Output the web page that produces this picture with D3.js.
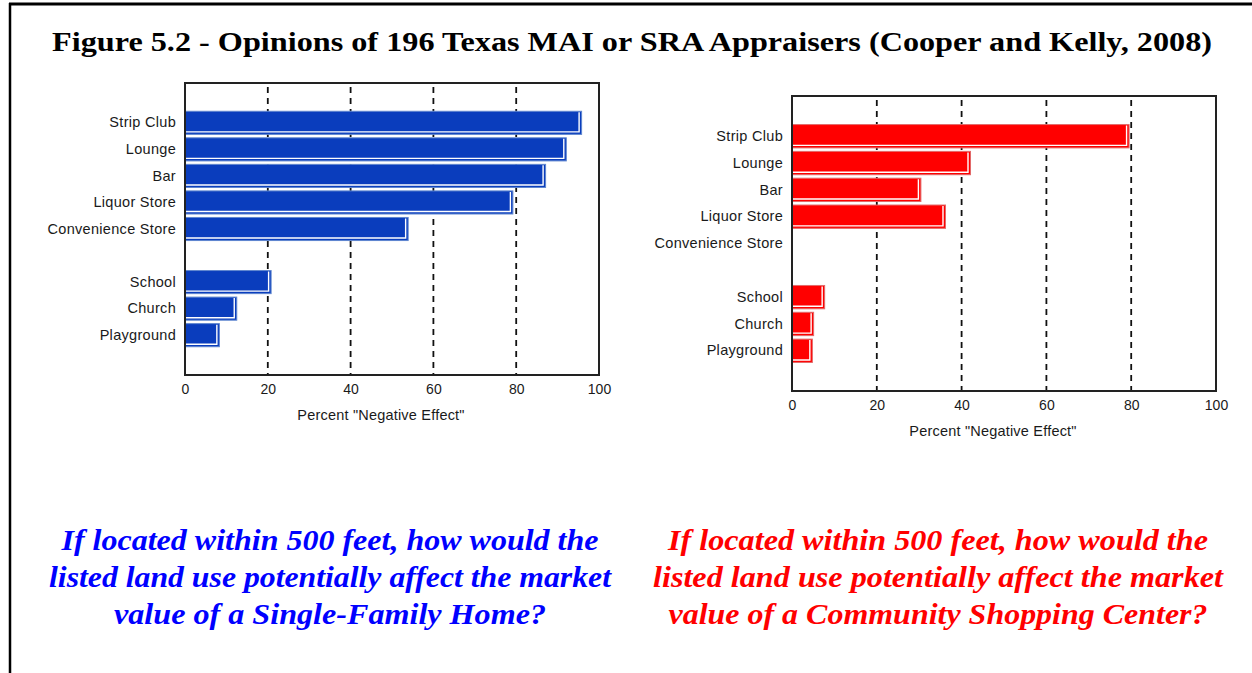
<!DOCTYPE html>
<html lang="en">
<head>
<meta charset="utf-8">
<title>Figure 5.2 - Opinions of 196 Texas MAI or SRA Appraisers</title>
<script src="https://cdn.jsdelivr.net/npm/d3@7/dist/d3.min.js"></script>
<style>
  body { margin: 0; background: #fff; }
  svg { display: block; }
</style>
</head>
<body>
<script>

// Data
var categories = ["Strip Club", "Lounge", "Bar", "Liquor Store", "Convenience Store", "School", "Church", "Playground"];
var homeValues = [95.8, 92.1, 87.1, 79.2, 53.9, 20.8, 12.5, 8.3];
var centerValues = [79.5, 42.1, 30.4, 36.2, 0, 7.7, 5.1, 4.8];
var xTicks = [0, 20, 40, 60, 80, 100];
var axisTitle = "Percent \"Negative Effect\"";
var titleText = "Figure 5.2 - Opinions of 196 Texas MAI or SRA Appraisers (Cooper and Kelly, 2008)";
var homeCaption = ["If located within 500 feet, how would the",
                   "listed land use potentially affect the market",
                   "value of a Single-Family Home?"];
var centerCaption = ["If located within 500 feet, how would the",
                     "listed land use potentially affect the market",
                     "value of a Community Shopping Center?"];

var w = 1252, h = 673;

var svg = d3.select("body").append("svg")
  .attr("width", w)
  .attr("height", h);

// page border (left and top only)
svg.append("line").attr("x1", 10).attr("x2", 10).attr("y1", 3).attr("y2", h)
  .attr("stroke", "#000").attr("stroke-width", 2.5);
svg.append("line").attr("x1", 9).attr("x2", w).attr("y1", 4).attr("y2", 4)
  .attr("stroke", "#000").attr("stroke-width", 3);

// title is stretched wide in the original
svg.append("text")
  .attr("x", 632).attr("y", 51)
  .attr("text-anchor", "middle")
  .attr("font-family", "'Liberation Serif', 'Times New Roman', serif")
  .attr("font-weight", "bold")
  .attr("font-size", 27.5)
  .attr("textLength", 1160)
  .attr("lengthAdjust", "spacingAndGlyphs")
  .attr("fill", "#000")
  .text(titleText);

// one bar panel
function drawPanel(p) {
  var x = d3.scaleLinear().domain([0, 100]).range([p.left, p.right]);

  // a blank slot separates the two groups of land uses
  var slots = categories.slice(0, 5).concat(["__gap"], categories.slice(5));
  var y = d3.scaleBand().domain(slots).range([p.top, p.bottom])
    .paddingInner(0.13).paddingOuter(1.065);

  var g = svg.append("g");

  // dashed grid
  g.selectAll("line.grid")
    .data(xTicks.filter(function(t) { return t > 0 && t < 100; }))
    .enter().append("line")
    .attr("class", "grid")
    .attr("x1", function(d) { return x(d); })
    .attr("x2", function(d) { return x(d); })
    .attr("y1", p.top + 4).attr("y2", p.bottom)
    .attr("stroke", "#111")
    .attr("stroke-width", 1.8)
    .attr("stroke-dasharray", "6,5");

  var data = categories.map(function(c, i) { return { c: c, v: p.values[i] }; })
    .filter(function(d) { return d.v > 0; });

  var bars = g.selectAll("g.bar").data(data).enter().append("g").attr("class", "bar");

  bars.append("rect")
    .attr("x", x(0))
    .attr("y", function(d) { return y(d.c); })
    .attr("width", function(d) { return x(d.v) - x(0); })
    .attr("height", y.bandwidth())
    .attr("fill", p.fill)
    .attr("stroke", p.edge)
    .attr("stroke-width", 1);

  // white bevel line along the bottom and right edge
  bars.append("path")
    .attr("d", function(d) {
      var x1 = x(d.v) - 2.5, yb = y(d.c) + y.bandwidth() - 2.5;
      return "M" + x(0) + "," + yb + "H" + x1 + "V" + (y(d.c) + 1);
    })
    .attr("fill", "none")
    .attr("stroke", "#fff")
    .attr("stroke-width", 1.4);

  // category labels
  var yAxis = g.append("g")
    .attr("transform", "translate(" + p.left + ",0)")
    .call(d3.axisLeft(y).tickValues(categories).tickSize(0).tickPadding(9));
  yAxis.select(".domain").remove();
  yAxis.selectAll("text")
    .attr("font-family", "'Liberation Sans', Arial, sans-serif")
    .attr("font-size", 14.5)
    .attr("letter-spacing", 0.3)
    .attr("fill", "#1a1a1a");

  // x tick labels
  var xAxis = g.append("g")
    .attr("transform", "translate(0," + p.bottom + ")")
    .call(d3.axisBottom(x).tickValues(xTicks).tickSize(0).tickPadding(9));
  xAxis.select(".domain").remove();
  xAxis.selectAll("text")
    .attr("font-family", "'Liberation Sans', Arial, sans-serif")
    .attr("font-size", 14)
    .attr("fill", "#1a1a1a");

  g.append("text")
    .attr("x", (p.left + p.right) / 2 - 11)
    .attr("y", p.bottom + 45)
    .attr("text-anchor", "middle")
    .attr("font-family", "'Liberation Sans', Arial, sans-serif")
    .attr("font-size", 14.5)
    .attr("letter-spacing", 0.2)
    .attr("fill", "#1a1a1a")
    .text(axisTitle);

  // frame
  g.append("rect")
    .attr("x", p.left).attr("y", p.top)
    .attr("width", p.right - p.left).attr("height", p.bottom - p.top)
    .attr("fill", "none")
    .attr("stroke", "#222")
    .attr("stroke-width", 2);

  // caption under the panel
  var cap = svg.append("text")
    .attr("text-anchor", "middle")
    .attr("font-family", "'Liberation Serif', 'Times New Roman', serif")
    .attr("font-weight", "bold")
    .attr("font-style", "italic")
    .attr("font-size", 30)
    .attr("fill", p.captionColor);
  cap.selectAll("tspan").data(p.caption).enter().append("tspan")
    .attr("x", p.captionX)
    .attr("y", function(d, i) { return 550 + i * 37; })
    .attr("textLength", function(d, i) { return p.captionWidths[i]; })
    .attr("lengthAdjust", "spacingAndGlyphs")
    .text(function(d) { return d; });
}

drawPanel({
  left: 185, right: 599, top: 83, bottom: 375,
  values: homeValues,
  fill: "#0a3dbd", edge: "#5f86cf",
  caption: homeCaption, captionColor: "#0000ff",
  captionX: 330, captionWidths: [537, 562, 432]
});

drawPanel({
  left: 792, right: 1216, top: 96, bottom: 391,
  values: centerValues,
  fill: "#ff0000", edge: "#e26a6a",
  caption: centerCaption, captionColor: "#ff0000",
  captionX: 938, captionWidths: [540, 570, 539]
});

</script>
</body>
</html>
